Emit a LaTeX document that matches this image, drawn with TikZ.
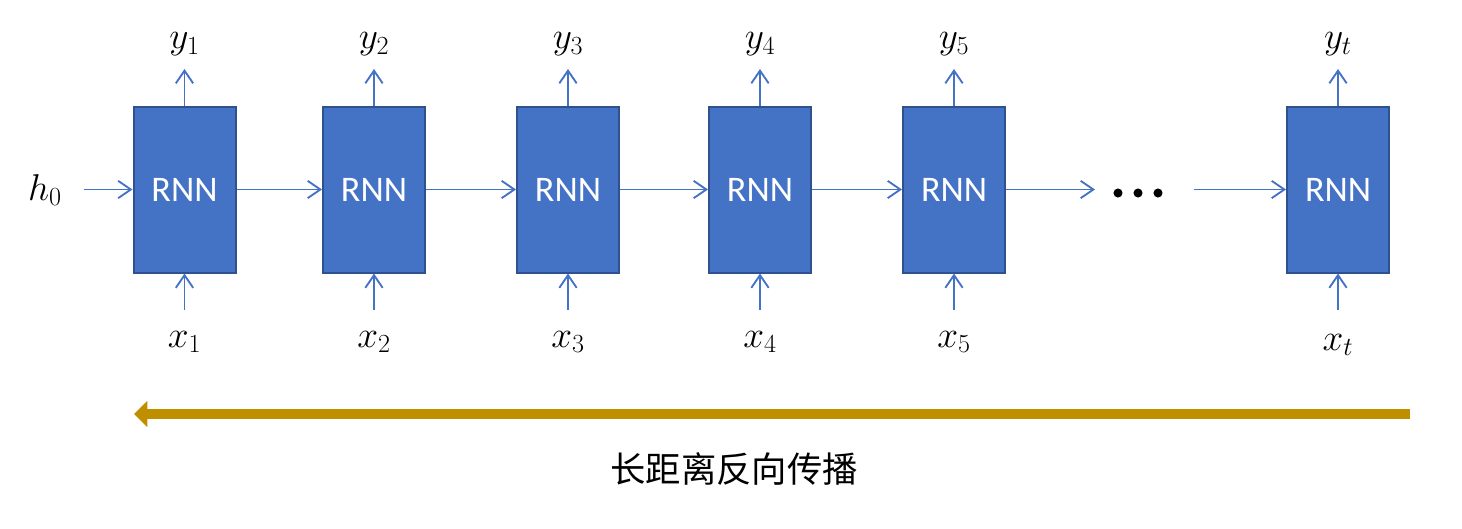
\RequirePackage{fix-cm}
\documentclass[tikz,border=0pt]{standalone}
\usepackage{fontspec}
\newfontfamily\rnnfont{Carlito}
\newfontfamily\cjk{Noto Sans CJK SC}
\usetikzlibrary{arrows.meta,calc}
\definecolor{boxblue}{HTML}{4472C4}
\definecolor{boxedge}{HTML}{2F528F}
\definecolor{goldarrow}{HTML}{BF8F00}
\begin{document}
\begin{tikzpicture}[x=0.75pt,y=-0.75pt,
  rnn/.style={draw=boxedge,line width=1.5pt,fill=boxblue,minimum width=76.5pt,minimum height=124.5pt,inner sep=0pt,text=white,font=\rnnfont\fontsize{27}{32}\selectfont},
  arr/.style={draw=boxblue,line width=1.4pt,-{Straight Barb[length=9.5pt,width=13pt]}},
  lbl/.style={font=\fontsize{28}{34}\selectfont,inner sep=0pt,anchor=base},
  back/.style={draw=goldarrow,line width=7.5pt,-{Triangle[length=10pt,width=19pt]}}]
\useasboundingbox (0,0) rectangle (1462,528);
\foreach \i/\x/\s/\yb in {1/184.5/1/347,2/374/2/347,3/568/3/347,4/760/4/347,5/954/5/347,6/1338/t/350}{
  \node[rnn] (b\i) at (\x,189.5) {RNN};
  \node[lbl] (y\i) at (\x,49) {$y_{\s}$};
  \node[lbl] (x\i) at (\x,\yb) {$x_{\s}$};
  \coordinate (yt\i) at (\x,69);
  \coordinate (xb\i) at (\x,310);
  \draw[arr] (b\i.north) -- (yt\i);
  \draw[arr] (xb\i) -- (b\i.south);
}
\draw[arr] (b1) -- (b2);
\draw[arr] (b2) -- (b3);
\draw[arr] (b3) -- (b4);
\draw[arr] (b4) -- (b5);
\coordinate (dl) at (1095,189.5);
\coordinate (dr) at (1194,189.5);
\draw[arr] (b5) -- (dl);
\draw[arr] (dr) -- (b6);
\foreach \d in {1118,1138,1158}{\fill (\d,193) circle (3.4pt);}
\node[lbl] (h0) at (45,200) {$h_0$};
\coordinate (hs) at (84,189.5);
\draw[arr] (hs) -- (b1.west);
\coordinate (gs) at (1410,414);
\coordinate (ge) at (134,414);
\draw[back] (gs) -- (ge);
\node[font=\cjk\fontsize{26.5}{30}\selectfont,inner sep=0pt] (cap) at (734,469) {长距离反向传播};
\end{tikzpicture}
\end{document}
